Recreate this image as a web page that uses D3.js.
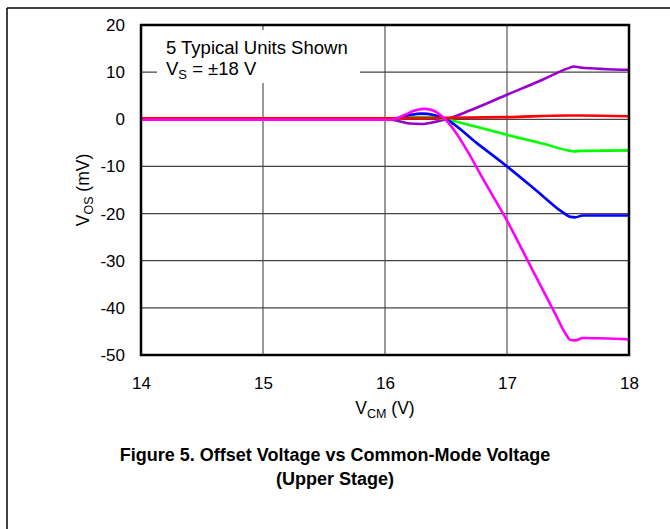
<!DOCTYPE html>
<html><head><meta charset="utf-8">
<script src="https://cdn.jsdelivr.net/npm/d3@7/dist/d3.min.js"></script>
<style>body{margin:0;background:#fff}svg{display:block}text{font-family:"Liberation Sans",Arial,sans-serif}</style>
</head><body>
<svg id="c" width="670" height="529"></svg>
<script>
const xTicks = [14, 15, 16, 17, 18];
const yTicks = [20, 10, 0, -10, -20, -30, -40, -50];

const redX = [14, 16, 16.3, 16.5, 17, 17.5, 17.6, 18];
const redY = [0.2, 0.2, 0.25, 0.3, 0.45, 0.8, 0.8, 0.65];
const purpleX = [14, 16.0, 16.1, 16.2, 16.3, 16.4, 16.5, 16.7, 17, 17.3, 17.5, 17.55, 17.6, 18];
const purpleY = [0, 0, -0.3, -0.9, -1.0, -0.6, 0, 1.9, 5.2, 8.5, 10.8, 11.2, 11.0, 10.5];
const greenX = [14, 16.05, 16.2, 16.3, 16.4, 16.5, 16.75, 17, 17.3, 17.5, 17.55, 17.6, 18];
const greenY = [0, 0, 0.4, 0.5, 0.4, 0, -1.6, -3.3, -5.2, -6.6, -6.8, -6.7, -6.6];
const blueX = [14, 16.05, 16.2, 16.3, 16.4, 16.5, 16.75, 17, 17.25, 17.45, 17.52, 17.56, 17.62, 18];
const blueY = [0, 0, 0.9, 1.2, 0.9, 0, -5, -10, -15.3, -19.6, -20.7, -20.8, -20.4, -20.4];
const magentaX = [14, 16.05, 16.15, 16.25, 16.33, 16.4, 16.45, 16.5, 16.58, 16.67, 16.8, 17, 17.2, 17.4, 17.48, 17.52, 17.56, 17.62, 18];
const magentaY = [-0.1, -0.1, 0.8, 1.9, 2.2, 1.8, 1.0, -0.2, -2.8, -6.5, -12.5, -21.5, -31.5, -41.5, -45.5, -46.8, -46.9, -46.4, -46.7];

const series = [
  {name: "purple", color: "#9900cc", x: purpleX, y: purpleY},
  {name: "green", color: "#00ff00", x: greenX, y: greenY},
  {name: "blue", color: "#0000ff", x: blueX, y: blueY},
  {name: "red", color: "#ff0000", x: redX, y: redY},
  {name: "magenta", color: "#ff00ff", x: magentaX, y: magentaY}
];

const L = 141, R = 629, T = 25, B = 355;
const svg = d3.select("#c");
const x = d3.scaleLinear().domain([14, 18]).range([L, R]);
const y = d3.scaleLinear().domain([-50, 20]).range([B, T]);
const FONT = '"Liberation Sans",Arial,sans-serif';

// outer frame
svg.append("line").attr("x1", 7).attr("x2", 670).attr("y1", 8).attr("y2", 8).attr("stroke", "#000").attr("stroke-width", 1.5);
svg.append("line").attr("x1", 7).attr("x2", 7).attr("y1", 8).attr("y2", 529).attr("stroke", "#000").attr("stroke-width", 1.5);

// grid
const g = svg.append("g");
g.selectAll(".vg").data(xTicks.slice(1, -1)).enter().append("line")
  .attr("x1", d => x(d)).attr("x2", d => x(d)).attr("y1", T).attr("y2", B)
  .attr("stroke", "#555").attr("stroke-width", 1.2);
g.selectAll(".hg").data(yTicks.slice(1, -1)).enter().append("line")
  .attr("x1", L).attr("x2", R).attr("y1", d => y(d)).attr("y2", d => y(d))
  .attr("stroke", "#444").attr("stroke-width", 1.2);

// legend box (white, covers grid)
svg.append("rect").attr("x", 157).attr("y", 30).attr("width", 203).attr("height", 53).attr("fill", "#fff");
svg.append("text").attr("x", 166).attr("y", 54).attr("font-size", 18.5).text("5 Typical Units Shown");
const l2 = svg.append("text").attr("x", 166).attr("y", 75).attr("font-size", 18.5);
l2.append("tspan").text("V");
l2.append("tspan").attr("font-size", 13).attr("dy", 4).text("S");
l2.append("tspan").attr("dy", -4).text(" = \u00b118 V");

// curves
const line = d3.line().x(d => x(d[0])).y(d => y(d[1])).curve(d3.curveMonotoneX);
series.forEach(s => {
  const pts = s.x.map((v, i) => [v, s.y[i]]);
  svg.append("path").attr("d", line(pts)).attr("fill", "none")
    .attr("stroke", s.color).attr("stroke-width", 2.6).attr("stroke-linejoin", "round");
});

// plot border
svg.append("rect").attr("x", L).attr("y", T).attr("width", R - L).attr("height", B - T)
  .attr("fill", "none").attr("stroke", "#000").attr("stroke-width", 2.5);

// axes labels via d3 axes (no tick lines)
const xAxis = svg.append("g").attr("transform", `translate(0,${B})`)
  .call(d3.axisBottom(x).tickValues(xTicks).tickSize(0).tickPadding(22).tickFormat(d => String(d)));
xAxis.select(".domain").remove();
xAxis.selectAll("text").attr("font-size", 17).attr("fill", "#000").attr("font-family", FONT);

const yAxis = svg.append("g").attr("transform", `translate(${L},0)`)
  .call(d3.axisLeft(y).tickValues(yTicks).tickSize(0).tickPadding(16).tickFormat(d => String(d)));
yAxis.select(".domain").remove();
yAxis.selectAll("text").attr("font-size", 17).attr("fill", "#000").attr("font-family", FONT);

// axis titles
const xt = svg.append("text").attr("x", (L + R) / 2).attr("y", 414).attr("text-anchor", "middle").attr("font-size", 17.5);
xt.append("tspan").text("V");
xt.append("tspan").attr("font-size", 12.5).attr("dy", 4).text("CM");
xt.append("tspan").attr("dy", -4).text(" (V)");

const yt = svg.append("text").attr("transform", `translate(89,${(T + B) / 2}) rotate(-90)`).attr("text-anchor", "middle").attr("font-size", 17.5);
yt.append("tspan").text("V");
yt.append("tspan").attr("font-size", 12.5).attr("dy", 4).text("OS");
yt.append("tspan").attr("dy", -4).text(" (mV)");

// figure caption
svg.append("text").attr("x", 335).attr("y", 461).attr("text-anchor", "middle").attr("font-size", 18).attr("font-weight", "bold")
  .text("Figure 5. Offset Voltage vs Common-Mode Voltage");
svg.append("text").attr("x", 335).attr("y", 485).attr("text-anchor", "middle").attr("font-size", 18).attr("font-weight", "bold")
  .text("(Upper Stage)");
</script>
</body></html>
